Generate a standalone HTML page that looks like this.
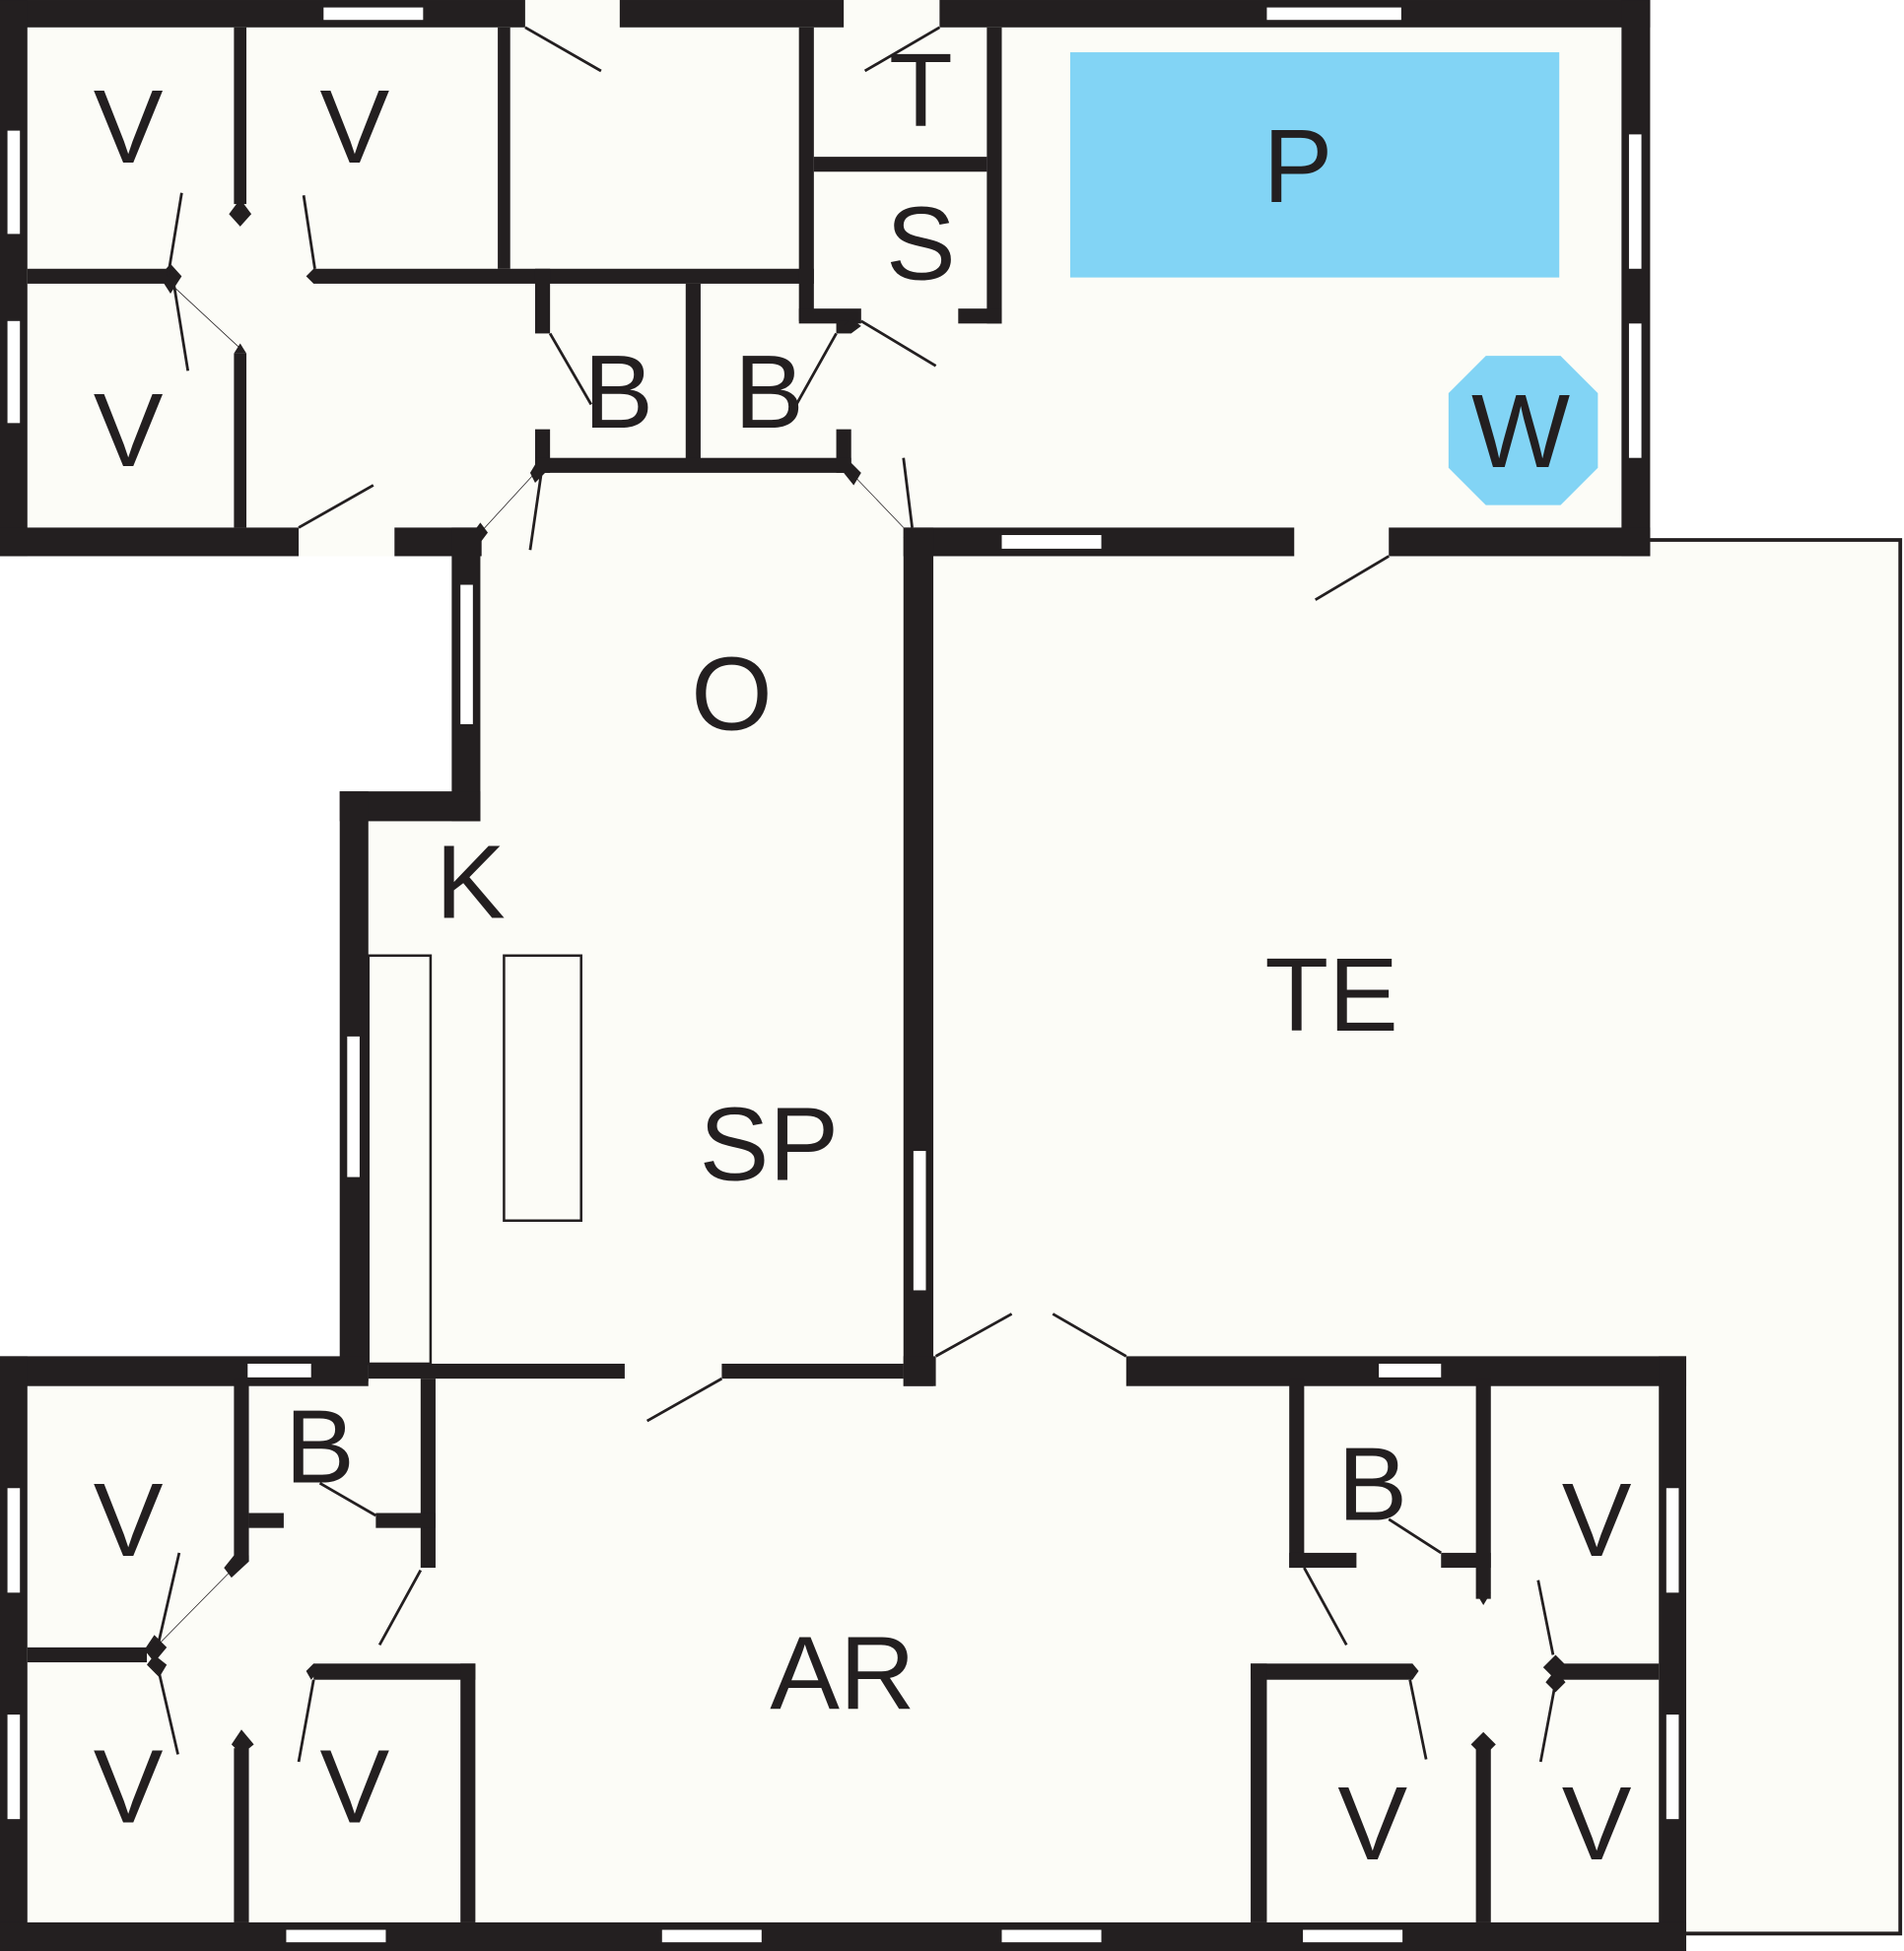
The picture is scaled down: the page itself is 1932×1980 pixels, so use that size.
<!DOCTYPE html>
<html><head><meta charset="utf-8"><style>
html,body{margin:0;padding:0;background:#fff}
svg{display:block}
text{font-family:"Liberation Sans",sans-serif;fill:#231f20;text-anchor:middle;dominant-baseline:central}
</style></head><body>
<svg width="1932" height="1980" viewBox="0 0 1530 1568" xmlns="http://www.w3.org/2000/svg">
<g fill="#fcfcf7">
<rect x="0" y="0" width="1326" height="447"/>
<polygon points="363,424 750,424 750,1114 273,1114 273,636 363,636"/>
<rect x="750" y="433" width="778" height="1122"/>
<rect x="0" y="1090" width="1355" height="478"/>
</g>
<polyline points="1326,434 1527,434 1527,1554 1355,1554" fill="none" stroke="#231f20" stroke-width="3"/>
<g fill="#231f20">
<rect x="0" y="0" width="422" height="22"/>
<rect x="498" y="0" width="180" height="22"/>
<rect x="755" y="0" width="571" height="22"/>
<rect x="0" y="0" width="22" height="447"/>
<rect x="1303" y="0" width="23" height="447"/>
<rect x="0" y="424" width="240" height="23"/>
<rect x="317" y="424" width="70" height="23"/>
<rect x="726" y="424" width="314" height="23"/>
<rect x="1116" y="424" width="210" height="23"/>
<rect x="188" y="22" width="10" height="142"/>
<rect x="22" y="216" width="112" height="12"/>
<rect x="252" y="216" width="402" height="12"/>
<rect x="188" y="284" width="10" height="140"/>
<rect x="400" y="22" width="10" height="194"/>
<rect x="642" y="22" width="12" height="236"/>
<rect x="654" y="126" width="139" height="12"/>
<rect x="793" y="22" width="12" height="238"/>
<rect x="642" y="248" width="50" height="12"/>
<rect x="770" y="248" width="35" height="12"/>
<rect x="430" y="216" width="12" height="52"/>
<rect x="430" y="345" width="12" height="35"/>
<rect x="551" y="228" width="12" height="142"/>
<rect x="672" y="258" width="12" height="10"/>
<rect x="672" y="345" width="12" height="35"/>
<rect x="430" y="368" width="254" height="12"/>
<polygon points="193,160 202,172 193,182 184,172"/>
<polygon points="137,212 146,222 137,236 128,222"/>
<polygon points="193,276 198,284 188,284"/>
<polygon points="252,216 256,222 252,228 246,222"/>
<polygon points="386,420 392,428 386,436 380,428"/>
<polygon points="432,370 438,380 430,388 426,380"/>
<polygon points="684,372 692,380 686,390 678,380"/>
<polygon points="732,424 738,432 730,440 726,432"/>
<polygon points="684,256 692,262 684,268 678,262"/>
<rect x="363" y="424" width="23" height="236"/>
<rect x="273" y="636" width="113" height="24"/>
<rect x="273" y="636" width="23" height="474"/>
<rect x="726" y="424" width="24" height="690"/>
<rect x="0" y="1090" width="296" height="24"/>
<rect x="296" y="1096" width="206" height="12"/>
<rect x="580" y="1096" width="146" height="12"/>
<rect x="726" y="1090" width="26" height="24"/>
<rect x="905" y="1090" width="450" height="24"/>
<rect x="0" y="1090" width="22" height="478"/>
<rect x="1333" y="1090" width="22" height="478"/>
<rect x="0" y="1545" width="1355" height="23"/>
<rect x="188" y="1108" width="12" height="147"/>
<rect x="338" y="1108" width="12" height="152"/>
<rect x="200" y="1216" width="28" height="12"/>
<rect x="302" y="1216" width="48" height="12"/>
<rect x="22" y="1324" width="96" height="12"/>
<rect x="188" y="1405" width="12" height="140"/>
<rect x="252" y="1337" width="130" height="13"/>
<rect x="370" y="1337" width="12" height="208"/>
<polygon points="188,1250 200,1250 200,1255 186,1268 180,1260"/>
<polygon points="124,1314 134,1324 124,1336 116,1326"/>
<polygon points="124,1330 134,1338 128,1348 118,1338"/>
<polygon points="194,1390 204,1402 194,1410 186,1402"/>
<polygon points="252,1337 256,1343 250,1350 246,1343"/>
<rect x="1036" y="1108" width="12" height="152"/>
<rect x="1036" y="1248" width="54" height="12"/>
<rect x="1158" y="1248" width="40" height="12"/>
<rect x="1186" y="1108" width="12" height="177"/>
<rect x="1252" y="1337" width="81" height="13"/>
<rect x="1186" y="1405" width="12" height="140"/>
<rect x="1005" y="1337" width="130" height="13"/>
<rect x="1005" y="1337" width="13" height="208"/>
<polygon points="1250,1330 1260,1340 1250,1350 1240,1340"/>
<polygon points="1250,1342 1258,1352 1250,1360 1242,1352"/>
<polygon points="1192,1392 1202,1402 1192,1412 1182,1402"/>
<polygon points="1135,1337 1140,1343 1135,1350 1130,1343"/>
<polygon points="1186,1280 1198,1280 1192,1290"/>
</g>
<g fill="#fff">
<rect x="260" y="6" width="80" height="10"/>
<rect x="1018" y="6" width="108" height="10"/>
<rect x="6" y="105" width="10" height="83"/>
<rect x="6" y="258" width="10" height="82"/>
<rect x="1309" y="108" width="10" height="108"/>
<rect x="1309" y="260" width="10" height="108"/>
<rect x="805" y="430" width="80" height="11"/>
<rect x="370" y="470" width="10" height="112"/>
<rect x="279" y="833" width="10" height="113"/>
<rect x="734" y="925" width="10" height="112"/>
<rect x="199" y="1096" width="51" height="11"/>
<rect x="1108" y="1096" width="50" height="11"/>
<rect x="6" y="1196" width="10" height="84"/>
<rect x="6" y="1378" width="10" height="84"/>
<rect x="1339" y="1196" width="10" height="84"/>
<rect x="1339" y="1378" width="10" height="84"/>
<rect x="230" y="1551" width="80" height="10"/>
<rect x="532" y="1551" width="80" height="10"/>
<rect x="805" y="1551" width="80" height="10"/>
<rect x="1047" y="1551" width="80" height="10"/>
</g>
<g fill="none" stroke="#231f20" stroke-width="2">
<rect x="296" y="768" width="50" height="328"/>
<rect x="405" y="768" width="62" height="213"/>
</g>
<g stroke="#231f20" stroke-width="2.2" fill="none">
<line x1="422" y1="22" x2="483" y2="57"/>
<line x1="755" y1="22" x2="695" y2="57"/>
<line x1="692" y1="258" x2="752" y2="294"/>
<line x1="240" y1="424" x2="300" y2="390"/>
<line x1="435" y1="380" x2="426" y2="442"/>
<line x1="726" y1="368" x2="733" y2="424"/>
<line x1="442" y1="268" x2="475" y2="325"/>
<line x1="672" y1="268" x2="640" y2="325"/>
<line x1="146" y1="155" x2="135" y2="222"/>
<line x1="244" y1="157" x2="253" y2="216"/>
<line x1="140" y1="230" x2="151" y2="298"/>
<line x1="1116" y1="447" x2="1057" y2="482"/>
<line x1="752" y1="1090" x2="813" y2="1056"/>
<line x1="905" y1="1090" x2="846" y2="1056"/>
<line x1="580" y1="1108" x2="520" y2="1142"/>
<line x1="257" y1="1192" x2="302" y2="1218"/>
<line x1="338" y1="1262" x2="305" y2="1322"/>
<line x1="144" y1="1248" x2="127" y2="1322"/>
<line x1="128" y1="1345" x2="143" y2="1410"/>
<line x1="252" y1="1350" x2="240" y2="1416"/>
<line x1="1116" y1="1221" x2="1158" y2="1248"/>
<line x1="1048" y1="1260" x2="1082" y2="1322"/>
<line x1="1236" y1="1270" x2="1248" y2="1330"/>
<line x1="1250" y1="1352" x2="1238" y2="1416"/>
<line x1="1133" y1="1350" x2="1146" y2="1414"/>
</g>
<g stroke="#231f20" stroke-width="0.6" fill="none">
<line x1="137" y1="228" x2="193" y2="280"/>
<line x1="386" y1="428" x2="430" y2="380"/>
<line x1="684" y1="380" x2="726" y2="424"/>
<line x1="127" y1="1322" x2="186" y2="1262"/>
</g>
<rect x="860" y="42" width="393" height="181" fill="#82d4f5"/>
<polygon points="1194,286 1254,286 1284,316 1284,376 1254,406 1194,406 1164,376 1164,316" fill="#82d4f5"/>
<g font-size="84">
<text x="103" y="102">V</text>
<text x="285" y="102">V</text>
<text x="103" y="346">V</text>
<text x="740" y="73">T</text>
<text x="740" y="196">S</text>
<text x="497" y="315">B</text>
<text x="618" y="315">B</text>
<text x="1043" y="134">P</text>
<text x="1222" y="347">W</text>
<text x="588" y="558">O</text>
<text x="378" y="709">K</text>
<text x="1070" y="800">TE</text>
<text x="618" y="920">SP</text>
<text x="257" y="1163">B</text>
<text x="103" y="1222">V</text>
<text x="103" y="1436">V</text>
<text x="285" y="1436">V</text>
<text x="677" y="1345">AR</text>
<text x="1103" y="1193">B</text>
<text x="1283" y="1222">V</text>
<text x="1103" y="1466">V</text>
<text x="1283" y="1466">V</text>
</g>
</svg>
</body></html>
